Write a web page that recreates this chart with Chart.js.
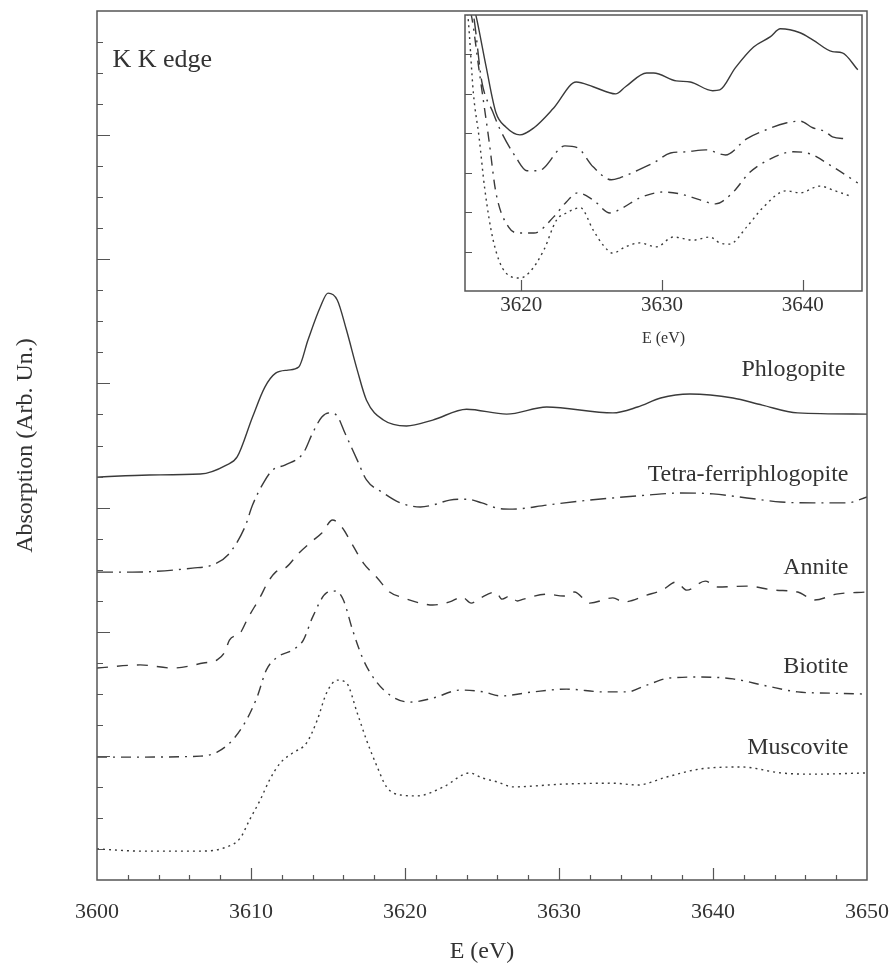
<!DOCTYPE html>
<html>
<head>
<meta charset="utf-8">
<title>K K edge</title>
<script src="https://cdn.jsdelivr.net/npm/chart.js@4.4.1/dist/chart.umd.min.js"></script>
<style>
  body { margin: 0; background: #fff; }
  #wrap { position: relative; width: 892px; height: 970px; }
  #main { position: absolute; left: 0; top: 0; }
  #inset { position: absolute; left: 440px; top: 0; }
</style>
</head>
<body>
<div id="wrap">
  <canvas id="main" width="892" height="970"></canvas>
  <canvas id="inset" width="430" height="360"></canvas>
</div>
<script>
// ---- main panel: K K-edge spectra, offset vertically ----
const phlogE = [3600, 3603.4, 3606.7, 3608.4, 3609.1, 3610.1, 3610.9, 3611.6, 3612.4, 3613.1, 3613.7, 3614.5, 3615.0, 3615.6, 3616.2, 3616.9, 3617.5, 3618.6, 3620.1, 3621.8, 3624.0, 3626.6, 3629.2, 3633.5, 3635.1, 3636.6, 3638.5, 3641.3, 3643.2, 3645.5, 3650];
const phlogA = [12.98, 13.05, 13.08, 13.37, 13.63, 14.92, 15.88, 16.33, 16.43, 16.53, 17.40, 18.46, 18.91, 18.69, 17.72, 16.43, 15.46, 14.82, 14.63, 14.82, 15.17, 15.01, 15.24, 15.05, 15.24, 15.53, 15.66, 15.53, 15.30, 15.05, 15.01];

const tetraE = [3600, 3602.3, 3606.2, 3607.5, 3608.5, 3609.6, 3610.1, 3610.8, 3611.4, 3612.2, 3613.4, 3614.0, 3614.6, 3615.1, 3615.6, 3616.1, 3616.9, 3617.5, 3618.6, 3619.7, 3621.0, 3621.8, 3622.9, 3624.0, 3625.0, 3626.0, 3627.0, 3629.2, 3631.4, 3633.5, 3635.7, 3637.9, 3640.0, 3642.2, 3644.4, 3646.5, 3648.7, 3650];
const tetraA = [9.92, 9.92, 10.05, 10.15, 10.47, 11.37, 12.08, 12.79, 13.21, 13.37, 13.76, 14.40, 14.92, 15.05, 14.95, 14.40, 13.53, 12.89, 12.47, 12.15, 12.02, 12.08, 12.24, 12.27, 12.15, 11.98, 11.95, 12.08, 12.21, 12.31, 12.40, 12.47, 12.44, 12.31, 12.18, 12.15, 12.15, 12.34];

const anniteE = [3600, 3602.8, 3604.9, 3606.9, 3607.8, 3608.3, 3608.6, 3609.3, 3609.8, 3610.6, 3611.1, 3611.6, 3612.3, 3613.1, 3613.9, 3614.6, 3615.3, 3615.9, 3616.6, 3617.3, 3618.2, 3619.0, 3619.9, 3621.0, 3621.8, 3622.9, 3623.7, 3624.3, 3624.9, 3625.9, 3626.3, 3626.8, 3627.3, 3627.7, 3629.2, 3630.3, 3631.0, 3632.0, 3633.5, 3634.2, 3635.7, 3636.7, 3637.6, 3638.3, 3639.5, 3640.3, 3642.2, 3644.0, 3645.5, 3646.6, 3648.0, 3650];
const anniteA = [6.83, 6.93, 6.83, 6.99, 7.09, 7.35, 7.73, 7.96, 8.44, 9.12, 9.60, 9.92, 10.08, 10.53, 10.89, 11.18, 11.60, 11.37, 10.79, 10.21, 9.73, 9.28, 9.09, 8.92, 8.86, 8.96, 9.12, 8.92, 9.09, 9.28, 9.05, 9.15, 8.99, 9.05, 9.21, 9.15, 9.28, 8.92, 9.09, 8.96, 9.18, 9.34, 9.60, 9.34, 9.63, 9.44, 9.47, 9.34, 9.28, 9.02, 9.21, 9.28];

const biotE = [3600, 3602.3, 3606.7, 3607.8, 3608.8, 3609.7, 3610.4, 3611.0, 3611.7, 3612.7, 3613.4, 3614.0, 3614.9, 3615.5, 3616.0, 3616.6, 3617.3, 3618.2, 3619.2, 3620.3, 3621.8, 3623.6, 3625.1, 3626.2, 3628.3, 3630.5, 3632.9, 3634.4, 3635.7, 3637.2, 3639.2, 3641.3, 3643.5, 3645.5, 3647.6, 3650];
const biotA = [3.96, 3.96, 3.99, 4.12, 4.51, 5.15, 5.90, 6.77, 7.18, 7.41, 7.73, 8.47, 9.25, 9.31, 9.02, 8.05, 7.09, 6.35, 5.90, 5.73, 5.86, 6.12, 6.06, 5.93, 6.06, 6.15, 6.06, 6.06, 6.28, 6.51, 6.54, 6.48, 6.25, 6.06, 6.02, 5.99];

const muscE = [3600, 3603.0, 3606.7, 3608.4, 3609.3, 3609.9, 3610.6, 3611.2, 3611.9, 3612.7, 3613.6, 3614.3, 3614.9, 3615.6, 3616.2, 3616.9, 3617.5, 3618.2, 3618.8, 3619.7, 3620.8, 3622.5, 3624.2, 3625.0, 3626.0, 3627.0, 3630.3, 3633.5, 3635.1, 3637.0, 3639.2, 3641.9, 3644.4, 3646.5, 3650];
const muscA = [1.00, 0.93, 0.93, 1.06, 1.35, 1.93, 2.58, 3.22, 3.77, 4.09, 4.41, 5.15, 6.02, 6.44, 6.35, 5.38, 4.51, 3.64, 3.00, 2.74, 2.71, 3.00, 3.45, 3.29, 3.16, 3.00, 3.09, 3.12, 3.06, 3.32, 3.58, 3.64, 3.45, 3.41, 3.45];

// ---- inset: post-edge region enlarged ----
const inPhlogE = [3616.3, 3616.8, 3617.5, 3618.2, 3618.9, 3619.9, 3620.9, 3622.3, 3623.9, 3625.1, 3626.7, 3627.4, 3628.9, 3629.4, 3631.0, 3632.0, 3633.6, 3634.1, 3635.2, 3636.5, 3637.7, 3638.4, 3639.8, 3640.7, 3642.1, 3642.8, 3643.9];
const inPhlogA = [7.64, 6.95, 5.69, 4.52, 4.16, 3.96, 4.14, 4.64, 5.30, 5.18, 5.00, 5.18, 5.53, 5.53, 5.33, 5.30, 5.08, 5.10, 5.66, 6.19, 6.45, 6.65, 6.55, 6.37, 6.07, 6.04, 5.61];

const inTetraE = [3616.1, 3616.6, 3617.2, 3618.0, 3618.5, 3619.6, 3620.4, 3621.3, 3621.6, 3623.1, 3624.0, 3625.1, 3626.4, 3627.0, 3628.2, 3629.4, 3630.6, 3631.7, 3633.1, 3634.5, 3636.0, 3637.4, 3638.8, 3639.8, 3640.7, 3641.6, 3642.1, 3643.1];
const inTetraA = [7.64, 7.00, 5.30, 4.52, 4.09, 3.40, 3.05, 3.05, 3.12, 3.68, 3.63, 3.15, 2.82, 2.87, 3.05, 3.25, 3.50, 3.53, 3.58, 3.45, 3.86, 4.09, 4.26, 4.31, 4.14, 4.04, 3.91, 3.86];

const inBiotE = [3616.0, 3616.5, 3617.0, 3617.7, 3618.2, 3619.1, 3619.9, 3620.9, 3622.3, 3623.2, 3624.0, 3625.1, 3626.3, 3627.2, 3628.4, 3630.1, 3631.3, 3632.7, 3633.8, 3635.0, 3636.2, 3637.7, 3639.3, 3640.5, 3641.9, 3643.9];
const inBiotA = [7.64, 6.90, 5.60, 3.83, 2.49, 1.62, 1.47, 1.47, 1.88, 2.26, 2.49, 2.31, 1.98, 2.11, 2.36, 2.51, 2.46, 2.31, 2.21, 2.49, 3.00, 3.35, 3.53, 3.48, 3.20, 2.74];

const inMuscE = [3615.9, 3616.2, 3616.6, 3617.0, 3617.4, 3618.0, 3618.9, 3619.9, 3620.6, 3621.6, 3622.5, 3623.2, 3624.2, 3625.1, 3625.8, 3626.5, 3627.4, 3628.4, 3629.6, 3630.8, 3632.2, 3633.4, 3634.1, 3634.8, 3636.0, 3637.2, 3638.8, 3639.8, 3641.2, 3642.3, 3643.5];
const inMuscA = [7.64, 7.00, 5.00, 3.90, 2.60, 1.29, 0.46, 0.33, 0.48, 1.04, 1.80, 1.98, 2.11, 1.55, 1.17, 0.96, 1.12, 1.22, 1.12, 1.37, 1.29, 1.37, 1.22, 1.19, 1.62, 2.13, 2.54, 2.49, 2.66, 2.54, 2.39];

// curve names and where their captions sit (energy, absorption)
const curveNames = ["Phlogopite", "Tetra-ferriphlogopite", "Annite", "Biotite", "Muscovite"];
const captionE = [3648.6, 3648.8, 3648.8, 3648.8, 3648.8];
const captionA = [16.24, 12.85, 9.86, 6.67, 4.06];

const serif = '"Liberation Serif", "DejaVu Serif", serif';
const ink = "#3a3a3a";

const solid = [];
const dashDotLong = [16, 6, 2, 6];
const dashed = [11, 9];
const dashDot = [10, 6, 2, 6];
const dotted = [2, 4];

function pts(xs, ys) {
  return xs.map((x, i) => ({ x: x, y: ys[i] }));
}

function line(xs, ys, dash) {
  return {
    data: pts(xs, ys),
    borderColor: ink,
    borderWidth: 1.4,
    borderDash: dash,
    pointRadius: 0,
    cubicInterpolationMode: "monotone",
    fill: false
  };
}

// frame around the plot area and inward tick marks
function frameTicks(cfg) {
  return {
    id: "frameTicks",
    afterDatasetsDraw(chart) {
      const { ctx, chartArea: a, scales } = chart;
      const sx = scales.x, sy = scales.y;
      ctx.save();
      ctx.strokeStyle = "#555";
      ctx.lineWidth = 1.5;
      ctx.strokeRect(a.left, a.top, a.right - a.left, a.bottom - a.top);
      ctx.lineWidth = 1.2;
      ctx.beginPath();
      const x0 = Math.ceil(sx.min / cfg.xStep) * cfg.xStep;
      for (let k = 0; x0 + k * cfg.xStep < sx.max - 1e-6; k++) {
        const v = x0 + k * cfg.xStep;
        if (v <= sx.min + 1e-6) continue;
        const px = Math.round(sx.getPixelForValue(v)) + 0.5;
        const len = Math.abs(v % cfg.xMajor) < 1e-6 ? cfg.xMajorLen : cfg.xMinorLen;
        ctx.moveTo(px, a.bottom);
        ctx.lineTo(px, a.bottom - len);
      }
      for (let v = sy.min + cfg.yStep; v < sy.max - 1e-6; v += cfg.yStep) {
        const py = Math.round(sy.getPixelForValue(v)) + 0.5;
        const len = v % cfg.yMajor === 0 ? cfg.yMajorLen : cfg.yMinorLen;
        ctx.moveTo(a.left, py);
        ctx.lineTo(a.left + len, py);
      }
      ctx.stroke();
      ctx.restore();
    }
  };
}

const captions = {
  id: "captions",
  afterDraw(chart) {
    const { ctx, scales: { x, y } } = chart;
    ctx.save();
    ctx.fillStyle = "#333";
    ctx.textBaseline = "alphabetic";
    ctx.font = "24px " + serif;
    ctx.textAlign = "right";
    curveNames.forEach((name, i) => {
      ctx.fillText(name, x.getPixelForValue(captionE[i]), y.getPixelForValue(captionA[i]));
    });
    ctx.font = "26px " + serif;
    ctx.textAlign = "left";
    ctx.fillText("K K edge", x.getPixelForValue(3601.0), y.getPixelForValue(26.2));
    ctx.restore();
  }
};

// keep the plot box fixed; tick labels may hang past its ends
function fixBox(size) {
  return (s) => {
    if (s.isHorizontal()) s.height = size; else s.width = size;
    s.paddingLeft = 0;
    s.paddingRight = 0;
    s.paddingTop = 0;
    s.paddingBottom = 0;
  };
}

new Chart(document.getElementById("main"), {
  type: "line",
  data: {
    datasets: [
      line(phlogE, phlogA, solid),
      line(tetraE, tetraA, dashDotLong),
      line(anniteE, anniteA, dashed),
      line(biotE, biotA, dashDot),
      line(muscE, muscA, dotted)
    ]
  },
  options: {
    responsive: false,
    animation: false,
    events: [],
    layout: { padding: { top: 11, right: 25, left: 0, bottom: 0 } },
    plugins: { legend: { display: false }, tooltip: { enabled: false } },
    scales: {
      x: {
        type: "linear",
        min: 3600,
        max: 3650,
        grid: { display: false, drawTicks: false },
        border: { display: false },
        ticks: {
          stepSize: 10,
          padding: 19,
          color: "#333",
          font: { family: serif, size: 22 },
          callback: (v) => String(v)
        },
        title: {
          display: true,
          text: "E (eV)",
          color: "#333",
          font: { family: serif, size: 24 },
          padding: { top: 0, bottom: 4 }
        },
        afterFit: fixBox(90)
      },
      y: {
        min: 0,
        max: 28,
        ticks: { display: false },
        grid: { display: false, drawTicks: false },
        border: { display: false },
        title: {
          display: true,
          text: "Absorption (Arb. Un.)",
          color: "#333",
          font: { family: serif, size: 24 },
          padding: { top: 11, bottom: 0 }
        },
        afterFit: fixBox(97)
      }
    }
  },
  plugins: [
    frameTicks({ xStep: 2, xMajor: 10, xMajorLen: 12, xMinorLen: 5, yStep: 1, yMajor: 4, yMajorLen: 13, yMinorLen: 6 }),
    captions
  ]
});

new Chart(document.getElementById("inset"), {
  type: "line",
  data: {
    datasets: [
      line(inPhlogE, inPhlogA, solid),
      line(inTetraE, inTetraA, dashDotLong),
      line(inBiotE, inBiotA, dashDot),
      line(inMuscE, inMuscA, dotted)
    ]
  },
  options: {
    responsive: false,
    animation: false,
    events: [],
    layout: { padding: { top: 15, right: 8, left: 0, bottom: 0 } },
    plugins: { legend: { display: false }, tooltip: { enabled: false } },
    scales: {
      x: {
        type: "linear",
        min: 3616,
        max: 3644.2,
        grid: { display: false, drawTicks: false },
        border: { display: false },
        ticks: {
          stepSize: 10,
          includeBounds: false,
          padding: 2,
          color: "#333",
          font: { family: serif, size: 21 },
          callback: (v) => String(v)
        },
        title: {
          display: true,
          text: "E (eV)",
          color: "#333",
          font: { family: serif, size: 16 },
          padding: { top: 0, bottom: 12 }
        },
        afterFit: fixBox(69)
      },
      y: {
        min: 0,
        max: 7,
        ticks: { display: false },
        grid: { display: false, drawTicks: false },
        border: { display: false },
        afterFit: fixBox(25)
      }
    }
  },
  plugins: [
    frameTicks({ xStep: 10, xMajor: 10, xMajorLen: 11, xMinorLen: 11, yStep: 1, yMajor: 1, yMajorLen: 7, yMinorLen: 7 })
  ]
});
</script>
</body>
</html>
